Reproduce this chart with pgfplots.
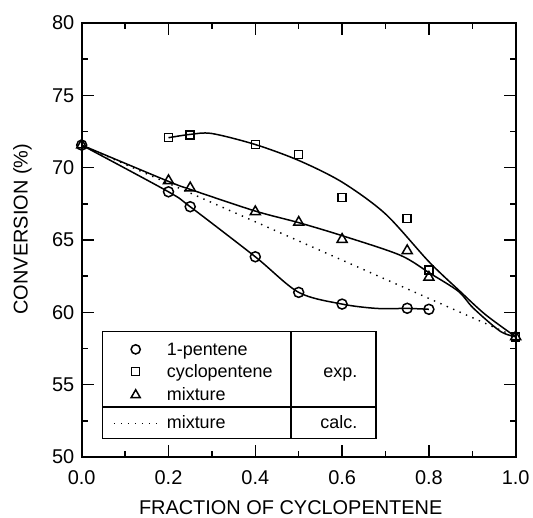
\documentclass[border=0pt]{standalone}
\usepackage{fontspec}
\setmainfont{Liberation Sans}
\usepackage{pgfplots}
\pgfplotsset{compat=1.18}
\begin{document}
\begin{tikzpicture}
\begin{axis}[
  scale only axis, width=434bp, height=434bp,
  xmin=0, xmax=1, ymin=50, ymax=80,
  xtick={0,0.2,0.4,0.6,0.8,1.0}, ytick={50,55,...,80},
  minor x tick num=1, minor y tick num=1,
  tick align=inside, major tick length=12bp, minor tick length=6bp,
  axis line style={line width=1.9bp},
  every tick/.style={line width=1.5bp, black},
  /pgf/number format/assume math mode=true,
  xticklabel style={/pgf/number format/fixed, /pgf/number format/fixed zerofill, /pgf/number format/precision=1, yshift=-10bp},
  yticklabel style={xshift=-4bp},
  tick label style={font=\fontsize{20}{24}\selectfont},
  xlabel={FRACTION OF CYCLOPENTENE}, ylabel={CONVERSION (\%)},
  label style={font=\fontsize{20}{24}\selectfont},
  xlabel style={at={(axis description cs:0.4815,-0.1336)}, anchor=base},
  ylabel style={at={(axis description cs:-0.1364,0.525)}, anchor=center},
  clip=false,
]
% fitted curves
\addplot[line width=1.5bp, smooth, tension=0.5] coordinates {
 (0,71.56) (0.2,68.33) (0.25,67.3) (0.4,63.84) (0.5,61.38) (0.6,60.57) (0.68,60.27) (0.75,60.27) (0.8,60.21)};
\addplot[line width=1.5bp, smooth, tension=0.5] coordinates {
 (0,71.56) (0.2,69.05) (0.25,68.5) (0.4,67.0) (0.5,66.2) (0.6,65.3) (0.733,63.96) (0.8025,62.7) (0.868,61.45) (0.902,60.3) (0.964,58.7) (1,58.31)};
\addplot[line width=1.5bp, smooth, tension=0.5] coordinates {
 (0.2,72.07) (0.25,72.3) (0.3,72.36) (0.4,71.6) (0.5,70.5) (0.6,69.0) (0.7,66.8) (0.8,63.5) (0.87,61.5) (0.93,59.85) (1.0,58.31)};
% calc
\addplot[line width=1.4bp, dash pattern=on 1.4bp off 5.6bp] coordinates {(0,71.56) (1,58.31)};
% exp points
\addplot[only marks, mark=o, mark size=5bp, mark options={line width=1.5bp, fill=white}] coordinates {
 (0,71.56) (0.2,68.33) (0.25,67.3) (0.4,63.84) (0.5,61.38) (0.6,60.57) (0.75,60.28) (0.8,60.21)};
\addplot[only marks, mark=square, mark size=4bp, mark options={line width=1.5bp}] coordinates {
 (0.2,72.07) (0.25,72.25) (0.4,71.61) (0.5,70.92) (0.6,67.95) (0.75,66.5) (0.8,62.92) (1.0,58.31)};
\addplot[only marks, mark=triangle, mark size=5.8bp, mark options={line width=1.5bp}] coordinates {
 (0,71.56) (0.2,69.1) (0.25,68.6) (0.4,66.95) (0.5,66.22) (0.6,65.04) (0.75,64.26) (0.8,62.42) (1.0,58.31)};
% legend box
\draw[line width=1.5bp, fill=white] (axis cs:0.0475,51.29) rectangle (axis cs:0.6781,58.66);
\draw[line width=1.5bp] (axis cs:0.4823,51.29) -- (axis cs:0.4823,58.66);
\draw[line width=1.5bp] (axis cs:0.0475,53.46) -- (axis cs:0.6781,53.46);
\addplot[only marks, mark=o, mark size=4.6bp, mark options={line width=1.5bp}] coordinates {(0.1244,57.44)};
\addplot[only marks, mark=square, mark size=4bp, mark options={line width=1.5bp}] coordinates {(0.1244,55.90)};
\addplot[only marks, mark=triangle, mark size=5.2bp, mark options={line width=1.5bp}] coordinates {(0.1244,54.29)};
\addplot[line width=1.4bp, dash pattern=on 1.4bp off 5.6bp] coordinates {(0.0744,52.33) (0.1728,52.33)};
\begin{scope}[every node/.style={inner sep=0pt, font=\fontsize{18}{22}\selectfont}]
\node[anchor=base west] at (axis cs:0.1958,57.05) {1-pentene};
\node[anchor=base west] at (axis cs:0.1958,55.48) {cyclopentene};
\node[anchor=base west] at (axis cs:0.1958,53.94) {mixture};
\node[anchor=base west] at (axis cs:0.1958,51.94) {mixture};
\node[anchor=base east] at (axis cs:0.6355,55.5) {exp.};
\node[anchor=base east] at (axis cs:0.6355,51.94) {calc.};
\end{scope}
\coordinate (sw) at (rel axis cs:0,0);
\coordinate (ne) at (rel axis cs:1,1);
\end{axis}
\pgfresetboundingbox
\path ([shift={(-81.7bp,-61bp)}]sw) rectangle ([shift={(17.3bp,23bp)}]ne);
\end{tikzpicture}
\end{document}
